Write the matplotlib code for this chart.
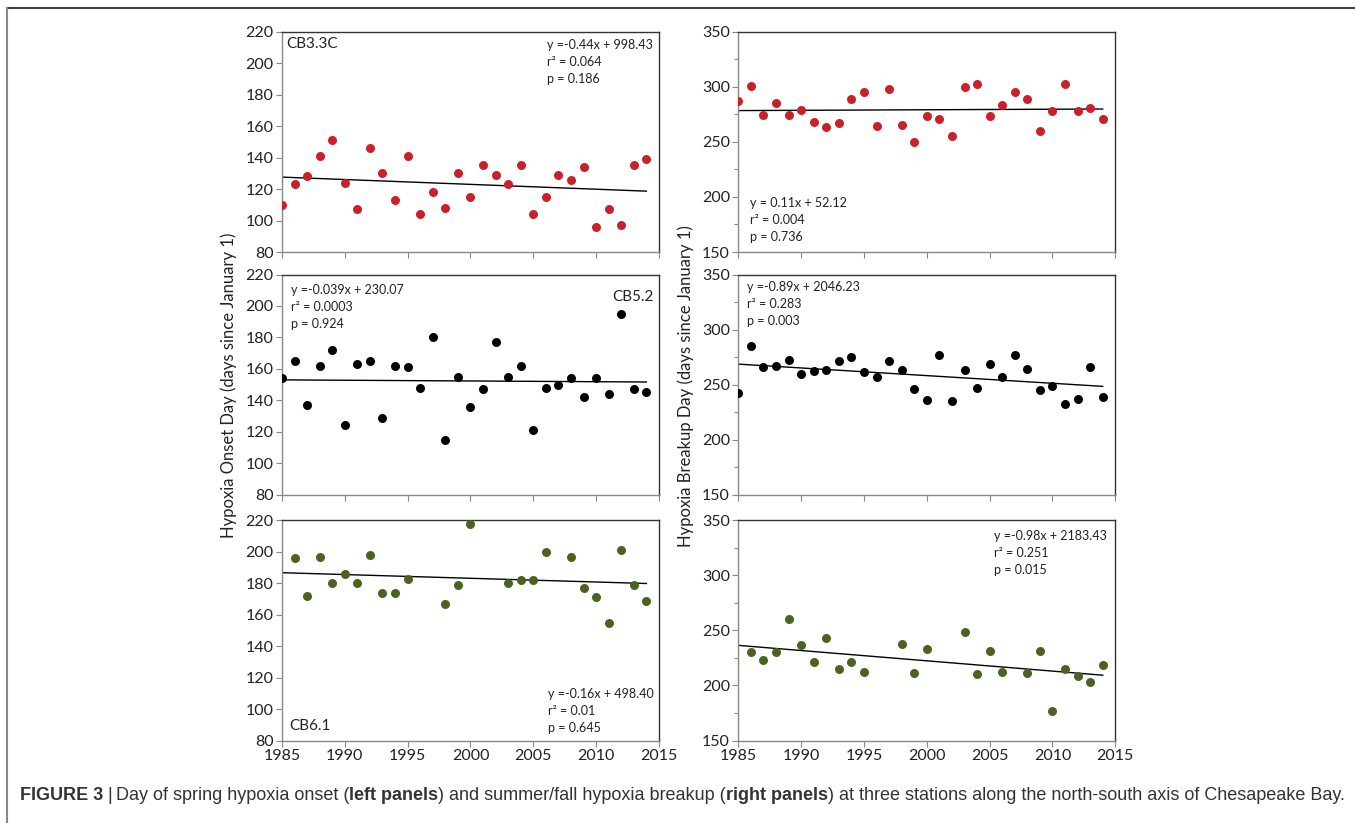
import matplotlib
matplotlib.use('Agg')
import matplotlib.pyplot as plt
from matplotlib.lines import Line2D
import numpy as np

YEARS = list(range(1985, 2015))
YEARS_CB61 = [1986, 1987, 1988, 1989, 1990, 1991, 1992, 1993, 1994, 1995,
              1998, 1999, 2000, 2003, 2004, 2005, 2006,
              2008, 2009, 2010, 2011, 2012, 2013, 2014]

onset_cb33c = [110, 123, 128, 141, 151, 124, 107, 146, 130, 113,
               141, 104, 118, 108, 130, 115, 135, 129, 123, 135,
               104, 115, 129, 126, 134, 96, 107, 97, 135, 139]
breakup_cb33c = [287, 301, 274, 285, 274, 279, 268, 263, 267, 289,
                 295, 264, 298, 265, 250, 273, 271, 255, 300, 302,
                 273, 283, 295, 289, 260, 278, 302, 278, 281, 271]
onset_cb52 = [154, 165, 137, 162, 172, 124, 163, 165, 129, 162,
              161, 148, 180, 115, 155, 136, 147, 177, 155, 162,
              121, 148, 150, 154, 142, 154, 144, 195, 147, 145]
breakup_cb52 = [242, 285, 266, 267, 272, 260, 262, 263, 271, 275,
                261, 257, 271, 263, 246, 236, 277, 235, 263, 247,
                269, 257, 277, 264, 245, 249, 232, 237, 266, 239]
onset_cb61 = [196, 172, 197, 180, 186, 180, 198, 174, 174, 183,
              167, 179, 218, 180, 182, 182, 200,
              197, 177, 171, 155, 201, 179, 169]
breakup_cb61 = [230, 223, 230, 260, 237, 221, 243, 215, 221, 212,
                238, 211, 233, 249, 210, 231, 212,
                211, 231, 177, 215, 209, 203, 219]

stats_text = {
    'onset_cb33c': 'y =-0.44x + 998.43\nr\u00b2 = 0.064\np = 0.186',
    'breakup_cb33c': 'y = 0.11x + 52.12\nr\u00b2 = 0.004\np = 0.736',
    'onset_cb52': 'y =-0.039x + 230.07\nr\u00b2 = 0.0003\np = 0.924',
    'breakup_cb52': 'y =-0.89x + 2046.23\nr\u00b2 = 0.283\np = 0.003',
    'onset_cb61': 'y =-0.16x + 498.40\nr\u00b2 = 0.01\np = 0.645',
    'breakup_cb61': 'y =-0.98x + 2183.43\nr\u00b2 = 0.251\np = 0.015',
}

RED = '#c9202a'
BLACK = '#000000'
GREEN = '#4b6321'
FONT = ['Lato', 'DejaVu Sans']

plt.rcParams['font.family'] = FONT

fig = plt.figure(figsize=(13.55, 8.23), dpi=100)

left_x, right_x, w = 0.2081, 0.5449, 0.2782
rows = [(0.6938, 0.2679), (0.3991, 0.2673), (0.1002, 0.2675)]


def make_axes(x0, row, kind, bottom_labels):
    ax = fig.add_axes([x0, rows[row][0], w, rows[row][1]])
    ax.set_xlim(1985, 2015)
    ax.set_xticks(range(1985, 2016, 5))
    if kind == 'onset':
        ax.set_ylim(80, 220)
        ax.set_yticks(range(80, 221, 20))
    else:
        ax.set_ylim(150, 350)
        ax.set_yticks(range(150, 351, 50))
        ax.set_yticks(range(175, 350, 50), minor=True)
    ax.tick_params(direction='out', length=4, width=0.8, color='#888888',
                   labelsize=11.5, labelcolor='#222222', pad=2)
    ax.tick_params(which='minor', direction='out', length=3, width=0.8, color='#888888')
    if not bottom_labels:
        ax.set_xticklabels([])
    for s in ['top', 'right']:
        ax.spines[s].set_color('#333333')
        ax.spines[s].set_linewidth(1.0)
    for s in ['left', 'bottom']:
        ax.spines[s].set_color('#888888')
        ax.spines[s].set_linewidth(1.0)
    return ax


def panel(ax, years, vals, color, line_years):
    ax.scatter(years, vals, s=42, color=color, zorder=3, linewidths=0)
    k, b = np.polyfit(years, vals, 1)
    xs = np.array([min(line_years), max(line_years)])
    ax.plot(xs, k * xs + b, color='black', lw=1.0, zorder=2)


ann = dict(fontsize=9, color='#222222', linespacing=1.5)

ax = make_axes(left_x, 0, 'onset', False)
panel(ax, YEARS, onset_cb33c, RED, YEARS)
ax.text(0.012, 0.944, 'CB3.3C', transform=ax.transAxes, fontsize=11, va='center', color='#222222')
ax.text(0.703, 0.967, stats_text['onset_cb33c'], transform=ax.transAxes, va='top', **ann)

ax = make_axes(right_x, 0, 'breakup', False)
panel(ax, YEARS, breakup_cb33c, RED, YEARS)
ax.text(0.032, 0.04, stats_text['breakup_cb33c'], transform=ax.transAxes, va='bottom', **ann)

ax = make_axes(left_x, 1, 'onset', False)
panel(ax, YEARS, onset_cb52, BLACK, YEARS)
ax.text(0.987, 0.9, 'CB5.2', transform=ax.transAxes, fontsize=11, va='center', ha='right', color='#222222')
ax.text(0.023, 0.955, stats_text['onset_cb52'], transform=ax.transAxes, va='top', **ann)
ax.set_ylabel('Hypoxia Onset Day (days since January 1)', fontsize=12, color='#222222')
ax.yaxis.set_label_coords(-0.119, 0.495)

ax = make_axes(right_x, 1, 'breakup', False)
panel(ax, YEARS, breakup_cb52, BLACK, YEARS)
ax.text(0.023, 0.97, stats_text['breakup_cb52'], transform=ax.transAxes, va='top', **ann)
ax.set_ylabel('Hypoxia Breakup Day (days since January 1)', fontsize=12, color='#222222')
ax.yaxis.set_label_coords(-0.117, 0.495)

ax = make_axes(left_x, 2, 'onset', True)
panel(ax, YEARS_CB61, onset_cb61, GREEN, YEARS)
ax.text(0.019, 0.068, 'CB6.1', transform=ax.transAxes, fontsize=11, va='center', color='#222222')
ax.text(0.706, 0.03, stats_text['onset_cb61'], transform=ax.transAxes, va='bottom', **ann)

ax = make_axes(right_x, 2, 'breakup', True)
panel(ax, YEARS_CB61, breakup_cb61, GREEN, YEARS)
ax.text(0.679, 0.958, stats_text['breakup_cb61'], transform=ax.transAxes, va='top', **ann)

# frame lines around the figure box
fig.add_artist(Line2D([7 / 1355, 1], [1 - 8 / 823, 1 - 8 / 823], transform=fig.transFigure,
                      color='#444444', lw=1.5))
fig.add_artist(Line2D([7 / 1355, 7 / 1355], [0, 1 - 8 / 823], transform=fig.transFigure,
                      color='#888888', lw=1.5))

# caption with bold pieces
caption = [('FIGURE 3', 'bold'), ('|', 'normal'), ('Day of spring hypoxia onset (', 'normal'),
           ('left panels', 'bold'), (') and summer/fall hypoxia breakup (', 'normal'),
           ('right panels', 'bold'), (') at three stations along the north-south axis of Chesapeake Bay.', 'normal')]
gaps = [0, 1, 1, 0, 0, 0, 0]
cap_font = ['Liberation Sans Narrow', 'Liberation Sans', 'DejaVu Sans']
renderer = fig.canvas.get_renderer()


def draw_caption(size):
    texts = []
    x = 20
    for (t, wt), g in zip(caption, gaps):
        x += g * size * 0.3
        tx = fig.text(x / 1355, 1 - 795 / 823, t, fontsize=size, fontweight=wt,
                      family=cap_font, color='#333333', va='center')
        texts.append(tx)
        x = tx.get_window_extent(renderer).x1
    return texts, x


texts, end = draw_caption(10)
for tx in texts:
    tx.remove()
size = 10 * (1348 - 20) / (end - 20)
draw_caption(size)

fig.savefig('out.png', dpi=100)
